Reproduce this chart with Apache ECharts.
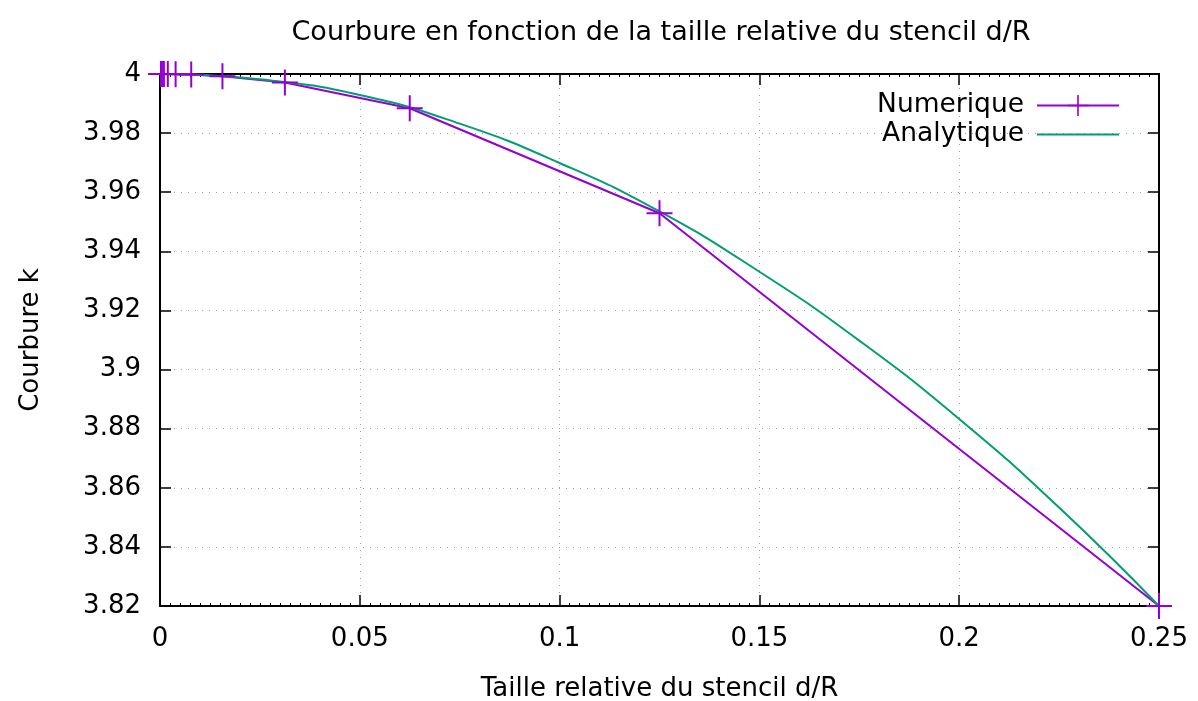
<!DOCTYPE html>
<html>
<head>
<meta charset="utf-8">
<script src="https://cdn.jsdelivr.net/npm/echarts@6/dist/echarts.min.js"></script>
<style>
  html, body { margin: 0; padding: 0; background: #ffffff; }
  #chart { width: 1198px; height: 701px; }
</style>
</head>
<body>
<div id="chart"></div>
<script>
// Numerical curvature estimates, stencil size halved at each step
const stencilRatio = [0.25, 0.125, 0.0625, 0.03125, 0.015625, 0.0078125, 0.00390625,
  0.001953125, 0.0009765625, 0.00048828125, 0.000244140625];
const numericCurvature = [3.8200, 3.9529, 3.9884, 3.9971, 3.9992, 3.9998, 3.99995,
  3.99999, 4.0000, 4.0000, 4.0000];

// Analytical curvature sampled along d/R
const analyticRatio = [0, 0.025, 0.05, 0.075, 0.1, 0.125, 0.15, 0.175, 0.2, 0.225, 0.25];
const analyticCurvature = [4.0000, 3.9982, 3.9929, 3.9832, 3.9699, 3.9535, 3.9331,
  3.9098, 3.8833, 3.8533, 3.8200];

// Axis tick labels
const xTickLabels = ['0', '0.05', '0.1', '0.15', '0.2', '0.25'];
const yTickLabels = ['3.82', '3.84', '3.86', '3.88', '3.9', '3.92', '3.94', '3.96', '3.98', '4'];

const X_MIN = 0, X_MAX = 0.25, X_STEP = 0.05;
const Y_MIN = 3.82, Y_MAX = 4, Y_STEP = 0.02;

const FONT = 'DejaVu Sans';
const FS = 26;
const PURPLE = '#9400d3';
const GREEN = '#009e73';

// thin "+" marker, 26x26 with 2px arms
const plusPath = 'path://M0,12L26,12L26,14L0,14Z M12,0L14,0L14,26L12,26Z';

const numericData = stencilRatio.map((x, i) => [x, numericCurvature[i]]);
const analyticData = analyticRatio.map((x, i) => [x, analyticCurvature[i]]);

const gridLine = { show: true, lineStyle: { color: '#a0a0a0', width: 1, type: [1, 6] } };
const border = { show: true, onZero: false, lineStyle: { color: '#000', width: 2 } };

function axisX(pos, main) {
  return {
    type: 'value', position: pos, min: X_MIN, max: X_MAX, interval: X_STEP,
    axisLine: border,
    axisTick: { show: true, inside: true, length: 11, lineStyle: { color: '#000', width: 1.5 } },
    minorTick: { show: true, splitNumber: 20, length: 3, lineStyle: { color: '#000', width: 1 } },
    axisLabel: {
      show: main, margin: 20, color: '#000', fontFamily: FONT, fontSize: FS,
      formatter: v => xTickLabels[Math.round((v - X_MIN) / X_STEP)]
    },
    splitLine: main ? gridLine : { show: false },
    name: main ? 'Taille relative du stencil d/R' : '',
    nameLocation: 'middle', nameGap: 70,
    nameTextStyle: { color: '#000', fontFamily: FONT, fontSize: FS }
  };
}

function axisY(pos, main) {
  return {
    type: 'value', position: pos, min: Y_MIN, max: Y_MAX, interval: Y_STEP,
    axisLine: border,
    axisTick: { show: true, inside: true, length: 11, lineStyle: { color: '#000', width: 1.5 } },
    axisLabel: {
      show: main, margin: 19, color: '#000', fontFamily: FONT, fontSize: FS,
      formatter: v => yTickLabels[Math.round((v - Y_MIN) / Y_STEP)]
    },
    splitLine: main ? gridLine : { show: false },
    name: main ? 'Courbure k' : '',
    nameLocation: 'middle', nameGap: 116,
    nameTextStyle: { color: '#000', fontFamily: FONT, fontSize: FS }
  };
}

const chart = echarts.init(document.getElementById('chart'), null, { renderer: 'canvas' });
chart.setOption({
  animation: false,
  backgroundColor: '#ffffff',
  textStyle: { fontFamily: FONT },
  title: {
    text: 'Courbure en fonction de la taille relative du stencil d/R',
    left: 656, top: 14, textAlign: 'center',
    textStyle: { color: '#000', fontFamily: FONT, fontSize: 27, fontWeight: 'normal' }
  },
  grid: { left: 160, right: 39, top: 74, bottom: 95, containLabel: false, outerBoundsMode: 'none' },
  legend: {
    orient: 'vertical', right: 73, top: 87, align: 'right',
    itemWidth: 82, itemHeight: 26, itemGap: 2,
    textStyle: { color: '#000', fontFamily: FONT, fontSize: 26.5, padding: [0, 8, 0, 0] },
    data: [
      { name: 'Numerique' },
      { name: 'Analytique', itemStyle: { opacity: 0 } }
    ]
  },
  xAxis: [axisX('bottom', true), axisX('top', false)],
  yAxis: [axisY('left', true), axisY('right', false)],
  series: [
    {
      name: 'Numerique', type: 'line', data: numericData,
      symbol: plusPath, symbolSize: 26, showAllSymbol: true, clip: false,
      itemStyle: { color: PURPLE, borderWidth: 0 },
      lineStyle: { color: PURPLE, width: 2 }
    },
    {
      name: 'Analytique', type: 'line', data: analyticData,
      smooth: true, symbol: 'none', clip: false,
      itemStyle: { color: GREEN },
      lineStyle: { color: GREEN, width: 2 }
    }
  ]
});
</script>
</body>
</html>
